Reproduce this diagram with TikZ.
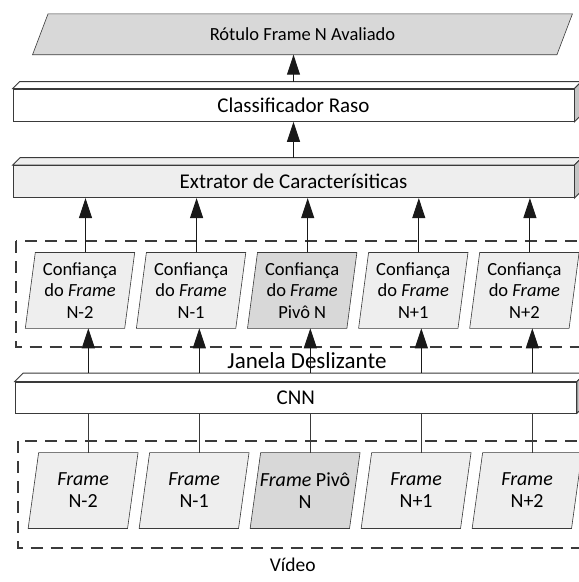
\documentclass[tikz,border=0pt]{standalone}
\usepackage{fontspec}
\setmainfont{Carlito}
\usetikzlibrary{arrows.meta,backgrounds}
\definecolor{edge}{HTML}{3A3A3A}
\definecolor{lightfill}{HTML}{EEEEEE}
\definecolor{pivotfill}{HTML}{D8D8D8}
\definecolor{sidefill}{HTML}{C4C4C4}

% parallelogram drawn behind a rectangular node: #1 node, #2 slant, #3 fill
\newcommand\slantbox[3]{%
  \path[fill=#3, draw=edge, line width=0.6pt]
    ([xshift=#2/2]#1.north west) -- ([xshift=#2/2]#1.north east)
    -- ([xshift=-#2/2]#1.south east) -- ([xshift=-#2/2]#1.south west) -- cycle;}
% top and right faces of a block: #1 node, #2 depth, #3 top fill
\newcommand\blockfaces[3]{%
  \path[fill=#3, draw=edge, line width=0.8pt]
    (#1.north west) -- ++(#2,#2) -- ([shift={(#2,#2)}]#1.north east) -- (#1.north east) -- cycle;
  \path[fill=sidefill, draw=edge, line width=0.8pt]
    (#1.north east) -- ++(#2,#2) -- ([shift={(#2,#2)}]#1.south east) -- (#1.south east) -- cycle;}

\begin{document}
\begin{tikzpicture}[x=1pt,y=-1pt,
  layerbox/.style={draw=edge, line width=0.8pt, inner sep=0pt, minimum width=561pt,
    minimum height=32.5pt, font=\fontsize{21}{25}\selectfont},
  slanted/.style={inner sep=0pt, minimum width=99pt, minimum height=75.5pt, align=center},
  conf/.style={slanted, font=\fontsize{18.5}{21.7}\selectfont},
  frm/.style={slanted, font=\fontsize{20}{22}\selectfont},
  flow/.style={draw=black!90, line width=1pt, -{Triangle[length=20pt,width=13pt]}},
  link/.style={draw=edge, line width=0.9pt},
  window/.style={draw=edge, line width=2pt, dash pattern=on 12pt off 8pt},
]
\clip (0,0) rectangle (579,582);

% output label
\node[inner sep=0pt, minimum width=524pt, minimum height=40.5pt,
      font=\fontsize{18.5}{22}\selectfont] (label) at (302.5,34.25) {Rótulo Frame N Avaliado};

% layer blocks
\node[layerbox, fill=white] (clf) at (293.5,105.25) {Classificador Raso};
\node[layerbox, fill=lightfill, minimum height=32.2pt] (ext) at (293.5,181.6) {Extrator de Caracterísiticas};
\node[layerbox, fill=white, minimum height=31pt, minimum width=561.5pt] (cnn) at (295.75,397.5) {CNN};

% per-frame confidences
\node[conf] (c1) at (80,290.4)    {Confiança\\do \textit{Frame}\\N-2};
\node[conf] (c2) at (191.1,290.4) {Confiança\\do \textit{Frame}\\N-1};
\node[conf] (c3) at (302.2,290.4) {Confiança\\do \textit{Frame}\\Pivô N};
\node[conf] (c4) at (413.3,290.4) {Confiança\\do \textit{Frame}\\N+1};
\node[conf] (c5) at (524.4,290.4) {Confiança\\do \textit{Frame}\\N+2};

% video frames
\node[frm] (f1) at (83.1,490.5)  {\textit{Frame}\\N-2};
\node[frm] (f2) at (194.1,490.5) {\textit{Frame}\\N-1};
\node[frm] (f3) at (305.1,490.5) {\textit{Frame} Pivô\\N};
\node[frm] (f4) at (416.1,490.5) {\textit{Frame}\\N+1};
\node[frm] (f5) at (527.1,490.5) {\textit{Frame}\\N+2};

% captions
\node[font=\fontsize{23}{27}\selectfont] (janela) at (307,360.5) {Janela Deslizante};
\node[font=\fontsize{19.5}{23}\selectfont] (video) at (292.7,565) {Vídeo};

\begin{pgfonlayer}{background}
  \fill[white] (0,0) rectangle (579,582);
  \draw[window] (15.5,241) rectangle (620,347);
  \draw[window] (18,441) rectangle (620,548.3);
  \slantbox{label}{15.5pt}{pivotfill}
  \blockfaces{clf}{7pt}{white}
  \blockfaces{ext}{7.5pt}{lightfill}
  \blockfaces{cnn}{8.5pt}{white}
  \slantbox{c1}{10pt}{lightfill}
  \slantbox{c2}{10pt}{lightfill}
  \slantbox{c3}{10pt}{pivotfill}
  \slantbox{c4}{10pt}{lightfill}
  \slantbox{c5}{10pt}{lightfill}
  \slantbox{f1}{10.5pt}{lightfill}
  \slantbox{f2}{10.5pt}{lightfill}
  \slantbox{f3}{10.5pt}{pivotfill}
  \slantbox{f4}{10.5pt}{lightfill}
  \slantbox{f5}{10.5pt}{lightfill}
\end{pgfonlayer}

% connectors
\coordinate (cnnback) at ([yshift=8.5pt]cnn.north);
\coordinate (extback) at ([yshift=7.5pt]ext.north);
\coordinate (clfback) at ([yshift=7pt]clf.north);
\foreach \k in {1,...,5}{
  \coordinate (ft\k) at ([xshift=5.25pt]f\k.north);
  \coordinate (ct\k) at ([xshift=5.5pt]c\k.north);
  \draw[link] (ft\k) -- (ft\k |- cnn.south);
  \draw[flow] (ft\k |- cnnback) -- (ft\k |- c\k.south);
  \draw[flow] (ct\k) -- (ct\k |- ext.south);
}
\draw[flow] (extback) -- (extback |- clf.south);
\draw[flow] (clfback) -- (clfback |- label.south);
\end{tikzpicture}
\end{document}
